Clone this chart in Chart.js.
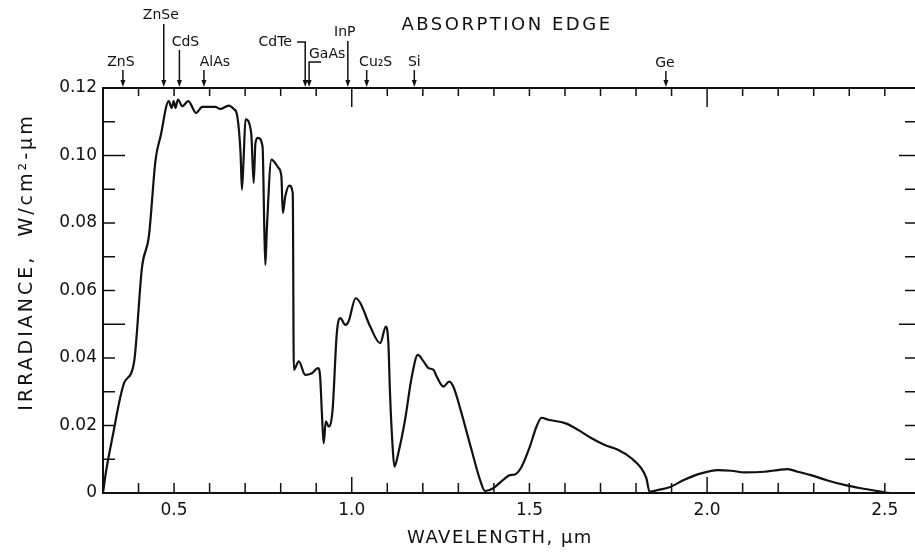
<!DOCTYPE html>
<html lang="en">
<head>
  <meta charset="UTF-8" />
  <title>Solar irradiance and absorption edges</title>
  <script src="https://cdn.jsdelivr.net/npm/chart.js"></script>
  <style>
    body { margin: 0; background: #fff; }
    #wrap { width: 915px; height: 554px; position: relative; }
  </style>
</head>
<body>
<div id="wrap"><canvas id="spectrum"></canvas></div>

<script>
  // spectrum (wavelength in um, irradiance in W/cm2-um)
  const wavelength = [
    0.300, 0.308, 0.326, 0.359, 0.387, 0.410, 0.429, 0.448, 0.462, 0.485,
    0.493, 0.499, 0.504, 0.511, 0.523, 0.540, 0.562, 0.579, 0.616, 0.630,
    0.654, 0.668, 0.677, 0.687, 0.691, 0.696, 0.701, 0.717, 0.724, 0.729,
    0.736, 0.749, 0.754, 0.757, 0.761, 0.774, 0.794, 0.802, 0.806, 0.813,
    0.824, 0.834, 0.837, 0.851, 0.869, 0.888, 0.905, 0.911, 0.916, 0.921,
    0.927, 0.935, 0.946, 0.958, 0.968, 0.982, 0.991, 1.011, 1.024, 1.052,
    1.080, 1.096, 1.103, 1.108, 1.115, 1.120, 1.131, 1.150, 1.169, 1.186,
    1.202, 1.216, 1.230, 1.239, 1.258, 1.274, 1.286, 1.309, 1.337, 1.361,
    1.375, 1.398, 1.426, 1.445, 1.459, 1.478, 1.501, 1.520, 1.534, 1.553,
    1.600, 1.637, 1.675, 1.712, 1.749, 1.787, 1.815, 1.829, 1.838, 1.862,
    1.894, 1.936, 1.983, 2.030, 2.068, 2.105, 2.161, 2.199, 2.227, 2.255,
    2.292, 2.339, 2.386, 2.433, 2.479, 2.517, 2.585
  ];
  const irradiance = [
    0.0000, 0.0060, 0.0162, 0.0325, 0.0385, 0.0671, 0.0760, 0.0988, 0.1057, 0.1161,
    0.1141, 0.1161, 0.1141, 0.1166, 0.1146, 0.1161, 0.1126, 0.1144, 0.1144, 0.1138,
    0.1148, 0.1138, 0.1121, 0.1008, 0.0899, 0.0998, 0.1107, 0.1067, 0.0919, 0.1037,
    0.1052, 0.1027, 0.0780, 0.0676, 0.0780, 0.0988, 0.0963, 0.0938, 0.0830, 0.0879,
    0.0911, 0.0889, 0.0365, 0.0390, 0.0350, 0.0355, 0.0370, 0.0345, 0.0236, 0.0147,
    0.0212, 0.0197, 0.0246, 0.0474, 0.0518, 0.0498, 0.0508, 0.0577, 0.0563, 0.0493,
    0.0444, 0.0493, 0.0444, 0.0286, 0.0137, 0.0078, 0.0118, 0.0217, 0.0345, 0.0409,
    0.0390, 0.0370, 0.0365, 0.0345, 0.0315, 0.0330, 0.0315, 0.0236, 0.0128, 0.0039,
    0.0006, 0.0014, 0.0039, 0.0053, 0.0055, 0.0078, 0.0137, 0.0197, 0.0223, 0.0217,
    0.0207, 0.0187, 0.0162, 0.0142, 0.0128, 0.0103, 0.0073, 0.0044, 0.0004, 0.0009,
    0.0017, 0.0039, 0.0058, 0.0068, 0.0066, 0.0061, 0.0063, 0.0068, 0.0071, 0.0063,
    0.0053, 0.0037, 0.0024, 0.0014, 0.0006, 0.0000, 0.0000
  ];

  // absorption edges marked along the top
  const edgeNames = ['ZnS', 'ZnSe', 'CdS', 'AlAs', 'CdTe', 'GaAs', 'InP', 'Cu\u2082S', 'Si', 'Ge'];
  const edgeWavelengths = [0.356, 0.471, 0.515, 0.584, 0.869, 0.880, 0.989, 1.042, 1.176, 1.884];

  const xTickValues = [0.5, 1.0, 1.5, 2.0, 2.5];
  const xTickLabels = ['0.5', '1.0', '1.5', '2.0', '2.5'];
  const yTickValues = [0, 0.02, 0.04, 0.06, 0.08, 0.10, 0.12];
  const yTickLabels = ['0', '0.02', '0.04', '0.06', '0.08', '0.10', '0.12'];

  const FONT = "'DejaVu Sans', sans-serif";
  const INK = '#111';

  // label layout for each edge: [label dx, label y, line top, hook dx]
  const edgeLayout = [
    [-2, 62, 70, 0], [-3, 15, 24, 0], [6, 42, 50, 0], [11, 62, 70, 0],
    [-30, 42, 42, -8], [18, 54, 62, 12], [-3, 32, 41, 0], [9, 62, 70, 0],
    [0, 62, 70, 0], [-1, 63, 71, 0]
  ];

  const frame = {
    id: 'frame',
    afterDatasetsDraw(chart) {
      const { ctx, chartArea: a, scales: { x, y } } = chart;
      ctx.save();
      ctx.strokeStyle = INK;
      ctx.fillStyle = INK;
      ctx.lineWidth = 2;
      ctx.beginPath();
      ctx.moveTo(a.right, a.top);
      ctx.lineTo(a.left, a.top);
      ctx.lineTo(a.left, a.bottom);
      ctx.lineTo(a.right, a.bottom);
      ctx.stroke();

      // minor ticks, pointing in
      ctx.lineWidth = 1.5;
      ctx.beginPath();
      for (let i = 4; i <= 25; i++) {
        const px = x.getPixelForValue(i / 10);
        const big = i % 10 === 0;
        ctx.moveTo(px, a.bottom); ctx.lineTo(px, a.bottom - (big ? 16 : 10));
        ctx.moveTo(px, a.top); ctx.lineTo(px, a.top + (big ? 19 : 8));
      }
      for (let j = 1; j <= 11; j++) {
        const py = y.getPixelForValue(j / 100);
        const big = j === 5 || j === 10;
        ctx.moveTo(a.left, py); ctx.lineTo(a.left + (big ? 22 : 12), py);
        ctx.moveTo(a.right, py); ctx.lineTo(a.right - (big ? 16 : 10), py);
      }
      ctx.stroke();

      // absorption edge arrows
      ctx.font = '14px ' + FONT;
      ctx.textAlign = 'center';
      ctx.textBaseline = 'middle';
      edgeNames.forEach((name, i) => {
        const px = x.getPixelForValue(edgeWavelengths[i]);
        const [dx, ly, top, hook] = edgeLayout[i];
        ctx.fillText(name, px + dx, ly);
        ctx.lineWidth = 1.5;
        ctx.beginPath();
        if (hook) { ctx.moveTo(px + hook, top); ctx.lineTo(px, top); }
        else ctx.moveTo(px, top);
        ctx.lineTo(px, a.top - 5);
        ctx.stroke();
        ctx.beginPath();
        ctx.moveTo(px - 2.5, a.top - 8);
        ctx.lineTo(px + 2.5, a.top - 8);
        ctx.lineTo(px, a.top - 1);
        ctx.closePath();
        ctx.fill();
      });

      // titles
      ctx.letterSpacing = '2.5px';
      ctx.font = '18px ' + FONT;
      ctx.fillText('ABSORPTION EDGE', 507, 25);
      ctx.letterSpacing = '1.5px';
      ctx.fillText('WAVELENGTH, \u00b5m', 500, 538);
      ctx.letterSpacing = '3px';
      ctx.font = '19px ' + FONT;
      ctx.translate(27, 262);
      ctx.rotate(-Math.PI / 2);
      ctx.fillText('IRRADIANCE,  W/cm\u00b2-\u00b5m', 0, 0);
      ctx.letterSpacing = '0px';
      ctx.restore();
    }
  };

  new Chart(document.getElementById('spectrum'), {
    type: 'line',
    data: {
      datasets: [{
        data: wavelength.map((w, i) => ({ x: w, y: irradiance[i] })),
        borderColor: INK,
        borderWidth: 2.2,
        pointRadius: 0,
        fill: false,
        cubicInterpolationMode: 'monotone'
      }]
    },
    options: {
      responsive: true,
      maintainAspectRatio: false,
      animation: false,
      layout: { padding: { top: 88, left: 0, right: 0, bottom: 0 } },
      plugins: { legend: { display: false }, tooltip: { enabled: false } },
      scales: {
        x: {
          type: 'linear',
          min: 0.3,
          max: 2.585,
          grid: { display: false, drawTicks: false },
          border: { display: false },
          afterFit: (s) => { s.height = 61; },
          afterBuildTicks: (s) => { s.ticks = xTickValues.map(v => ({ value: v })); },
          ticks: {
            color: INK,
            padding: 7,
            font: { family: FONT, size: 17 },
            maxRotation: 0,
            callback: (v, i) => xTickLabels[i]
          }
        },
        y: {
          min: 0,
          max: 0.12,
          grid: { display: false, drawTicks: false },
          border: { display: false },
          afterFit: (s) => { s.width = 103; },
          afterBuildTicks: (s) => { s.ticks = yTickValues.map(v => ({ value: v })); },
          ticks: {
            color: INK,
            padding: 6,
            font: { family: FONT, size: 17 },
            callback: (v, i) => yTickLabels[i]
          }
        }
      }
    },
    plugins: [frame]
  });
</script>
</body>
</html>
